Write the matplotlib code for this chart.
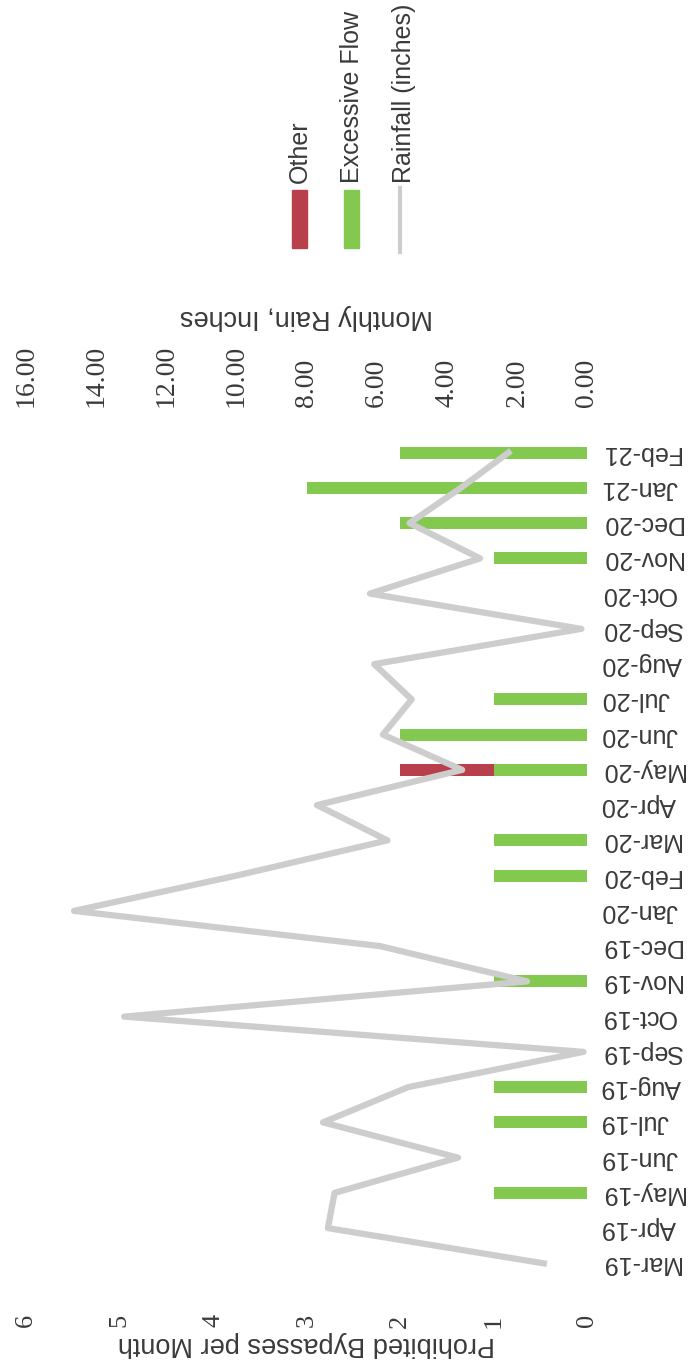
import numpy as np
import matplotlib
matplotlib.use("Agg")
import matplotlib.pyplot as plt
from matplotlib.patches import Rectangle
from matplotlib.lines import Line2D

# data
months = ["Mar-19", "Apr-19", "May-19", "Jun-19", "Jul-19", "Aug-19", "Sep-19",
          "Oct-19", "Nov-19", "Dec-19", "Jan-20", "Feb-20", "Mar-20", "Apr-20",
          "May-20", "Jun-20", "Jul-20", "Aug-20", "Sep-20", "Oct-20", "Nov-20",
          "Dec-20", "Jan-21", "Feb-21"]
excessive_flow = [0, 0, 1, 0, 1, 1, 0, 0, 1, 0, 0, 1, 1, 0, 1, 2, 1, 0, 0, 0, 1, 2, 3, 2]
other = [0, 0, 0, 0, 0, 0, 0, 0, 0, 0, 0, 0, 0, 0, 1, 0, 0, 0, 0, 0, 0, 0, 0, 0]
rainfall = [1.23, 7.39, 7.2, 3.68, 7.53, 5.1, 0.1, 13.2, 1.71, 5.9, 14.63, 10.0,
            5.69, 7.7, 3.56, 5.82, 5.0, 6.07, 0.16, 6.19, 3.05, 5.06, 3.6, 2.24]
bypass_ticks = [0, 1, 2, 3, 4, 5, 6]
rain_ticks = [0, 2, 4, 6, 8, 10, 12, 14, 16]

green = "#84c94f"
red = "#b8404c"
grey_line = "#cdcdcd"
txt = "#3a3a3a"
sans = "Liberation Sans"
serif = "Liberation Serif"

W, H = 689, 1365
fig = plt.figure(figsize=(W / 100, H / 100), dpi=100)

def fx(px):
    return px / W

def fy(py):
    return 1 - py / H

# plot area (chart is drawn rotated: categories run bottom->top, values leftwards)
left, right, top, bottom = 26, 587, 435, 1281
ax = fig.add_axes([fx(left), fy(bottom), fx(right) - fx(left), fy(top) - fy(bottom)])
idx = np.arange(len(months))

ax.barh(idx, excessive_flow, height=0.34, color=green, zorder=2)
ax.barh(idx, other, left=excessive_flow, height=0.34, color=red, zorder=2)
ax.set_xlim(6, 0)
ax.set_ylim(-0.5, len(months) - 0.5)

ax.set_xticks(bypass_ticks)
ax.set_xticklabels([str(t) for t in bypass_ticks], rotation=90, fontsize=19, color=txt)
ax.tick_params(axis="x", length=0, pad=24)

ax.yaxis.tick_right()
ax.set_yticks(idx)
ax.set_yticklabels(months, rotation=180, ha="left", va="center", fontsize=18, color=txt)
ax.tick_params(axis="y", length=0, pad=10)
for lab in ax.get_yticklabels():
    lab.set_fontfamily(sans)
for lab in ax.get_xticklabels():
    lab.set_fontfamily(serif)

ax.set_xlabel("Prohibited Bypasses per Month", rotation=180, fontfamily=sans,
              fontsize=19.5, color=txt, va="center")
ax.xaxis.set_label_coords(0.5, -63 / (bottom - top))

ax2 = ax.twiny()
ax2.plot(rainfall, idx, color=grey_line, lw=4.5, zorder=3)
ax2.set_xlim(16, 0)
ax2.set_ylim(-0.5, len(months) - 0.5)
ax2.set_xticks(rain_ticks)
ax2.set_xticklabels(["%.2f" % t for t in rain_ticks], rotation=90, fontsize=20, color=txt)
for lab in ax2.get_xticklabels():
    lab.set_fontfamily(serif)
ax2.tick_params(axis="x", length=0, pad=20)
ax2.set_xlabel("Monthly Rain, Inches", rotation=180, fontfamily=sans,
               fontsize=19.5, color=txt, va="center")
ax2.xaxis.set_label_coords(0.5, 1 + (top - 317) / (bottom - top))

for a in (ax, ax2):
    for s in a.spines.values():
        s.set_visible(False)

# legend, drawn rotated like the rest of the chart
fig.add_artist(Rectangle((fx(292), fy(248)), fx(15), 58 / H, color=red,
                         transform=fig.transFigure))
fig.add_artist(Rectangle((fx(344), fy(248)), fx(15), 58 / H, color=green,
                         transform=fig.transFigure))
fig.add_artist(Line2D([fx(400), fx(400)], [fy(252), fy(188)], color=grey_line, lw=3,
                      transform=fig.transFigure))
for xp, lab in [(300, "Other"), (352, "Excessive Flow"), (404, "Rainfall (inches)")]:
    fig.text(fx(xp), fy(183), lab, rotation=90, ha="center", va="bottom",
             fontfamily=sans, fontsize=18, color=txt)

fig.savefig("out.png", dpi=100, facecolor="white")
